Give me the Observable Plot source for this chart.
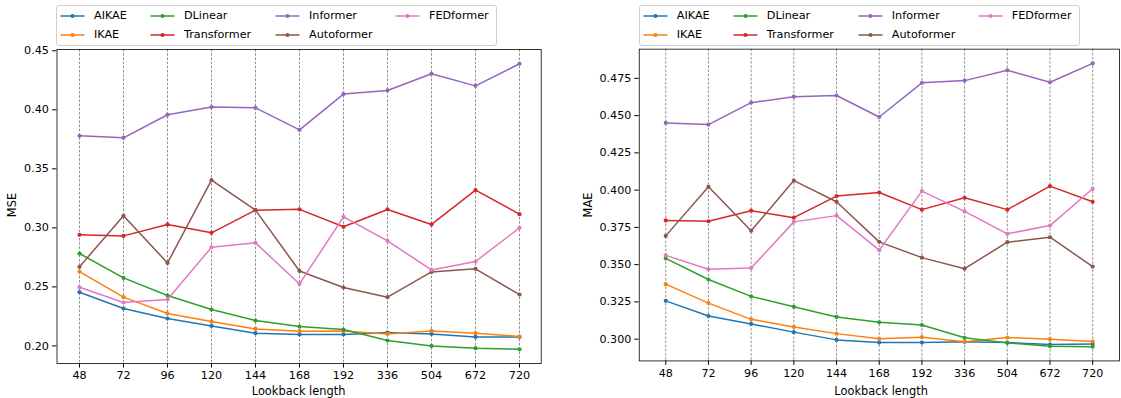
<!DOCTYPE html>
<html><head><meta charset="utf-8">
<script src="https://cdn.jsdelivr.net/npm/d3@7"></script>
<script src="https://cdn.jsdelivr.net/npm/@observablehq/plot@0.6"></script>
<style>
html,body{margin:0;padding:0;background:#fff;overflow:hidden;}
#fig{position:relative;width:1121px;height:398px;overflow:hidden;font-family:"DejaVu Sans",sans-serif;font-size:11.2px;color:#000;}
.panel{position:absolute;top:0;}
.legend{position:absolute;top:5px;height:41px;border:1px solid #d0d0d0;border-radius:3px;background:rgba(255,255,255,0.8);box-sizing:border-box;}
.item{position:absolute;white-space:nowrap;line-height:14px;height:14px;transform:translateY(-50%);}
.sw{position:absolute;transform:translateY(-50%);}
.lbl{position:absolute;white-space:nowrap;transform:translate(-50%,-50%);font-size:11.4px;}
.lbl.rot{transform:translate(-50%,-50%) rotate(-90deg);}
</style></head><body><div id="fig"></div>
<script>
// ---- data ----
const lookbacks = ["48","72","96","120","144","168","192","336","504","672","720"];
const models = ["AIKAE","IKAE","DLinear","Transformer","Informer","Autoformer","FEDformer"];
const colors = ["#1f77b4","#ff7f0e","#2ca02c","#d62728","#9467bd","#8c564b","#e377c2"];

const mseAIKAE       = [0.2455,0.2317,0.2232,0.2169,0.2108,0.2097,0.2097,0.2113,0.2102,0.2076,0.2076];
const mseIKAE        = [0.2630,0.2413,0.2275,0.2207,0.2144,0.2125,0.2127,0.2102,0.2127,0.2108,0.2080];
const mseDLinear     = [0.2783,0.2576,0.2427,0.2308,0.2215,0.2164,0.2139,0.2046,0.2000,0.1981,0.1972];
const mseTransformer = [0.2941,0.2932,0.3029,0.2958,0.3150,0.3157,0.3009,0.3156,0.3029,0.3320,0.3116];
const mseInformer    = [0.3780,0.3763,0.3958,0.4023,0.4017,0.3830,0.4133,0.4164,0.4305,0.4203,0.4390];
const mseAutoformer  = [0.2670,0.3102,0.2703,0.3404,0.3150,0.2635,0.2495,0.2413,0.2627,0.2653,0.2435];
const mseFEDformer   = [0.2497,0.2368,0.2393,0.2836,0.2873,0.2525,0.3093,0.2890,0.2644,0.2715,0.3000];

const maeAIKAE       = [0.3257,0.3155,0.3102,0.3047,0.2995,0.2977,0.2977,0.2982,0.2977,0.2964,0.2967];
const maeIKAE        = [0.3369,0.3242,0.3133,0.3082,0.3037,0.3002,0.3013,0.2982,0.3011,0.3000,0.2984];
const maeDLinear     = [0.3542,0.3400,0.3287,0.3217,0.3149,0.3113,0.3095,0.3009,0.2975,0.2953,0.2949];
const maeTransformer = [0.3797,0.3791,0.3862,0.3815,0.3960,0.3984,0.3869,0.3949,0.3869,0.4027,0.3922];
const maeInformer    = [0.4451,0.4440,0.4587,0.4627,0.4635,0.4491,0.4720,0.4735,0.4804,0.4724,0.4851];
const maeAutoformer  = [0.3693,0.4022,0.3727,0.4064,0.3922,0.3653,0.3547,0.3473,0.3651,0.3684,0.3487];
const maeFEDformer   = [0.3562,0.3469,0.3477,0.3787,0.3829,0.3597,0.3993,0.3857,0.3707,0.3762,0.4009];

const mseTicks = [0.20,0.25,0.30,0.35,0.40,0.45];
const maeTicks = [0.300,0.325,0.350,0.375,0.400,0.425,0.450,0.475];

const mseSeries = [mseAIKAE,mseIKAE,mseDLinear,mseTransformer,mseInformer,mseAutoformer,mseFEDformer];
const maeSeries = [maeAIKAE,maeIKAE,maeDLinear,maeTransformer,maeInformer,maeAutoformer,maeFEDformer];

const fig = document.getElementById("fig");

function addDiv(cls, text, x, y, extraStyle) {
  const d = document.createElement("div");
  d.className = cls;
  if (text != null) d.textContent = text;
  d.style.left = x + "px";
  d.style.top = y + "px";
  if (extraStyle) Object.assign(d.style, extraStyle);
  fig.appendChild(d);
  return d;
}

function makePanel({left, width, ml, mr, metric, series, ticks, fmt, frameL, frameR}) {
  const rows = [];
  models.forEach((m, i) => series[i].forEach((v, j) => rows.push({model: m, lookback: lookbacks[j], value: v})));
  const vals = rows.map(d => d.value);
  const lo = d3.min(vals), hi = d3.max(vals), pad = (hi - lo) * 0.05;
  const marks = [
    Plot.ruleX(lookbacks, {stroke: "#444", strokeWidth: 0.6, strokeDasharray: "2.6,1.6"})
  ];
  models.forEach((m, i) => {
    const sub = rows.filter(d => d.model === m);
    marks.push(Plot.lineY(sub, {x: "lookback", y: "value", stroke: colors[i], strokeWidth: 1.5}));
    marks.push(Plot.dot(sub, {x: "lookback", y: "value", fill: colors[i], r: 2.1}));
  });
  marks.push(Plot.frame({stroke: "#000", strokeWidth: 0.8}));
  const p = Plot.plot({
    width, height: 398,
    marginLeft: ml, marginRight: mr, marginTop: 49, marginBottom: 35,
    style: {fontFamily: "DejaVu Sans", fontSize: "11.2px", color: "#000", background: "transparent", overflow: "visible"},
    x: {type: "point", domain: lookbacks, padding: 0.5, label: null, tickSize: 4.5, tickPadding: 3.5},
    y: {domain: [lo - pad, hi + pad], ticks, tickFormat: fmt, label: null, tickSize: 4.5, tickPadding: 3.5},
    marks
  });
  const wrap = document.createElement("div");
  wrap.className = "panel";
  wrap.style.left = left + "px";
  wrap.appendChild(p);
  fig.appendChild(wrap);

  // axis labels
  addDiv("lbl", "Lookback length", (frameL + frameR) / 2, 391);
  addDiv("lbl rot", metric, frameL - (metric === "MSE" ? 45 : 51.5), 205);

  // legend
  const boxL = frameL - 0.5;
  addDiv("legend", null, boxL, 5, {width: "441px"});
  const colText = [38, 128, 253, 373];
  const rowY = [16, 34.5];
  models.forEach((m, i) => {
    const col = Math.floor(i / 2), row = i % 2;
    const tx = boxL + colText[col];
    const y = rowY[row];
    const sw = addDiv("sw", null, tx - 34, y);
    sw.innerHTML = `<svg width="25" height="8" style="display:block"><line x1="0.5" y1="4" x2="24.5" y2="4" stroke="${colors[i]}" stroke-width="1.5"/><circle cx="12.5" cy="4" r="2.1" fill="${colors[i]}"/></svg>`;
    addDiv("item", m, tx, y);
  });
}

makePanel({left: 0, width: 560, ml: 56.5, mr: 19.3, metric: "MSE", series: mseSeries,
  ticks: mseTicks, fmt: d3.format(".2f"), frameL: 56.5, frameR: 540.7});
makePanel({left: 560, width: 565, ml: 79.3, mr: 2, metric: "MAE", series: maeSeries,
  ticks: maeTicks, fmt: d3.format(".3f"), frameL: 639.3, frameR: 1123});
</script>
</body></html>
